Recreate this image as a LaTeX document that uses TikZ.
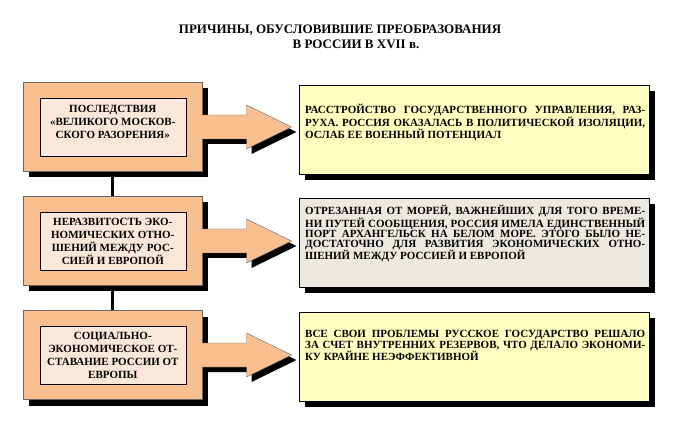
\documentclass[tikz,border=0pt]{standalone}
\usepackage{fontspec}
\setmainfont{Liberation Serif}
\usetikzlibrary{shadows}

\definecolor{orangebox}{HTML}{F9BF8F}
\definecolor{peachbox}{HTML}{FCE8DA}
\definecolor{yellowbox}{HTML}{FFFFC0}
\definecolor{greybox}{HTML}{ECEAE0}

\begin{document}
\begin{tikzpicture}[x=1pt,y=-1pt,
    outerbox/.style={draw=black!60, fill=orangebox, minimum width=179pt, minimum height=89pt, inner sep=0pt,
        general shadow={shadow xshift=6pt, shadow yshift=-6pt, fill=black}},
    innerbox/.style={draw=black, fill=peachbox, minimum width=146pt, minimum height=58pt, inner sep=2pt,
        align=center, font=\fontsize{11}{13}\selectfont\bfseries},
    rightbox/.style={draw=black, minimum width=350pt, minimum height=89pt,
        general shadow={shadow xshift=6pt, shadow yshift=-6pt, fill=black}},
    righttext/.style={anchor=north west, inner sep=0pt, text width=340pt, align=justify,
        font=\fontsize{11}{9.6}\selectfont\bfseries},
    blockarrow/.style={draw=black!60, fill=orangebox,
        general shadow={shadow xshift=5pt, shadow yshift=-5pt, fill=black}},
    link/.style={line width=3pt}
    ]
    % Fondo
    \fill[white] (0,0) rectangle (673,433);
    \useasboundingbox (0,0) rectangle (673,433);

    % Titulo
    \node[anchor=base, font=\fontsize{13}{15}\selectfont\bfseries] (title1) at (340,34) {ПРИЧИНЫ, ОБУСЛОВИВШИЕ ПРЕОБРАЗОВАНИЯ};
    \node[anchor=base, font=\fontsize{13}{15}\selectfont\bfseries] (title2) at (356,49) {В РОССИИ В XVII в.};

    % Cajas de la izquierda
    \node[outerbox] (o1) at (112.8,127) {};
    \node[outerbox] (o2) at (112.8,241) {};
    \node[outerbox] (o3) at (112.8,355) {};

    % Lineas
    \draw[link] (o1.south) -- (o2.north);
    \draw[link] (o2.south) -- (o3.north);

    % Flechas
    \draw[blockarrow] ([xshift=-1pt,yshift=12pt]o1.east) -- ++(45pt,0pt) -- ++(0pt,10pt) -- ++(45pt,-22pt)
        -- ++(-45pt,-22pt) -- ++(0pt,10pt) -- ++(-45pt,0pt);
    \draw[blockarrow] ([xshift=-1pt,yshift=12pt]o2.east) -- ++(45pt,0pt) -- ++(0pt,10pt) -- ++(45pt,-22pt)
        -- ++(-45pt,-22pt) -- ++(0pt,10pt) -- ++(-45pt,0pt);
    \draw[blockarrow] ([xshift=-1pt,yshift=12pt]o3.east) -- ++(45pt,0pt) -- ++(0pt,10pt) -- ++(45pt,-22pt)
        -- ++(-45pt,-22pt) -- ++(0pt,10pt) -- ++(-45pt,0pt);

    % Textos de la izquierda
    \node[innerbox] (i1) at (o1.center) {ПОСЛЕДСТВИЯ\\«ВЕЛИКОГО МОСКОВ-\\СКОГО РАЗОРЕНИЯ»\\[-3pt]\mbox{}};
    \node[innerbox] (i2) at (o2.center) {НЕРАЗВИТОСТЬ ЭКО-\\НОМИЧЕСКИХ ОТНО-\\ШЕНИЙ МЕЖДУ РОС-\\СИЕЙ И ЕВРОПОЙ};
    \node[innerbox] (i3) at (o3.center) {СОЦИАЛЬНО-\\ЭКОНОМИЧЕСКОЕ ОТ-\\СТАВАНИЕ РОССИИ ОТ\\ЕВРОПЫ};

    % Cajas de la derecha
    \node[rightbox, fill=yellowbox] (r1) at (474.2,129.5) {};
    \node[rightbox, fill=greybox] (r2) at (474.2,242.5) {};
    \node[rightbox, fill=yellowbox] (r3) at (474.2,356.7) {};

    \node[righttext] (t1) at ([xshift=6pt,yshift=-19pt]r1.north west)
        {РАССТРОЙСТВО ГОСУДАРСТВЕННОГО УПРАВЛЕНИЯ, РАЗ-\linebreak
         РУХА. РОССИЯ ОКАЗАЛАСЬ В ПОЛИТИЧЕСКОЙ ИЗОЛЯЦИИ,\linebreak
         ОСЛАБ ЕЕ ВОЕННЫЙ ПОТЕНЦИАЛ};
    \node[righttext, font=\fontsize{11}{10}\selectfont\bfseries] (t2) at ([xshift=6pt,yshift=-7pt]r2.north west)
        {ОТРЕЗАННАЯ ОТ МОРЕЙ, ВАЖНЕЙШИХ ДЛЯ ТОГО ВРЕМЕ-\linebreak
         НИ ПУТЕЙ СООБЩЕНИЯ, РОССИЯ ИМЕЛА ЕДИНСТВЕННЫЙ\linebreak
         ПОРТ АРХАНГЕЛЬСК НА БЕЛОМ МОРЕ. ЭТОГО БЫЛО НЕ-\linebreak
         ДОСТАТОЧНО ДЛЯ РАЗВИТИЯ ЭКОНОМИЧЕСКИХ ОТНО-\linebreak
         ШЕНИЙ МЕЖДУ РОССИЕЙ И ЕВРОПОЙ};
    \node[righttext] (t3) at ([xshift=6pt,yshift=-18pt]r3.north west)
        {ВСЕ СВОИ ПРОБЛЕМЫ РУССКОЕ ГОСУДАРСТВО РЕШАЛО\linebreak
         ЗА СЧЕТ ВНУТРЕННИХ РЕЗЕРВОВ, ЧТО ДЕЛАЛО ЭКОНОМИ-\linebreak
         КУ КРАЙНЕ НЕЭФФЕКТИВНОЙ};
\end{tikzpicture}
\end{document}
